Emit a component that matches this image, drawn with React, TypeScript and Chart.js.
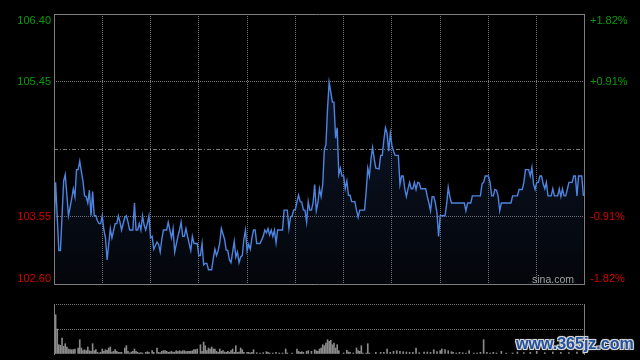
import React, { useEffect, useRef } from 'react';
import { Chart, registerables } from 'chart.js';

Chart.register(...registerables);

// ---- price line (minute of session, price) ----
const minutes = [
  0, 1, 3, 4, 6, 7, 9, 11, 12, 13, 14, 15, 16, 17, 18, 19, 20, 21, 22, 23, 24, 25, 26, 27, 28, 29, 30,
  31, 32, 33, 34, 35, 36, 38, 39, 40, 41, 42, 44, 45, 46, 47, 49, 50, 51, 52, 53, 54, 55, 56, 57, 58, 59,
  60, 61, 62, 64, 65, 66, 67, 68, 70, 71, 72, 73, 74, 75, 77, 78, 79, 80, 81, 82, 83, 85, 86, 87, 89, 90,
  91, 92, 93, 94, 95, 96, 98, 99, 100, 101, 102, 103, 104, 106, 107, 108, 109, 110, 112, 113, 114, 115,
  116, 117, 118, 119, 120, 121, 122, 123, 124, 125, 126, 128, 130, 131, 132, 133, 134, 135, 136, 137,
  138, 139, 142, 143, 145, 146, 147, 148, 149, 150, 151, 152, 153, 154, 155, 156, 157, 158, 159, 160,
  161, 162, 163, 164, 165, 166, 167, 168, 169, 170, 171, 172, 173, 174, 175, 176, 177, 178, 179, 180,
  181, 182, 183, 184, 185, 187, 188, 189, 190, 193, 194, 195, 196, 197, 198, 199, 200, 202, 203, 204,
  205, 206, 207, 208, 209, 210, 211, 212, 214, 215, 216, 217, 218, 219, 220, 221, 222, 223, 224, 225,
  226, 227, 228, 231, 232, 233, 234, 235, 236, 237, 238, 239, 240, 243, 244, 245, 246, 247, 255, 256,
  257, 259, 260, 265, 266, 267, 268, 270, 271, 272, 273, 274, 275, 276, 277, 278, 284, 285, 288, 289,
  291, 292, 293, 295, 296, 297, 298, 299, 300, 301, 302, 303, 304, 305, 306, 307, 309, 310, 311, 313,
  314, 315, 316, 317, 318, 319, 320, 322, 323, 324, 325, 326, 328, 329,
];
const prices = [
  103.36, 104.03, 103.07, 103.07, 104.05, 104.14, 103.56, 103.8, 103.94, 103.83, 104.21, 104.21, 104.33,
  104.18, 104.05, 103.84, 103.83, 103.74, 103.92, 103.56, 103.9, 103.56, 103.56, 103.49, 103.45, 103.45,
  103.56, 103.36, 103.25, 102.94, 103.16, 103.38, 103.25, 103.45, 103.45, 103.56, 103.47, 103.36, 103.54,
  103.56, 103.47, 103.36, 103.36, 103.74, 103.36, 103.36, 103.45, 103.36, 103.56, 103.43, 103.36, 103.45,
  103.56, 103.25, 103.27, 103.09, 103.19, 103.16, 103.05, 103.23, 103.36, 103.36, 103.47, 103.36, 103.25,
  103.38, 103.05, 103.27, 103.36, 103.47, 103.27, 103.27, 103.38, 103.27, 103.07, 103.27, 103.17, 103.17,
  103.0, 103.0, 103.17, 102.87, 102.89, 102.89, 102.8, 102.8, 102.96, 103.09, 103.0, 103.07, 103.18,
  103.38, 103.23, 103.08, 103.07, 102.94, 102.9, 103.2, 102.98, 103.05, 102.9, 102.98, 103.0, 103.23,
  103.36, 103.07, 103.16, 103.09, 103.25, 103.36, 103.36, 103.17, 103.17, 103.27, 103.36, 103.32, 103.38,
  103.29, 103.36, 103.27, 103.36, 103.18, 103.36, 103.36, 103.64, 103.64, 103.38, 103.54, 103.56, 103.64,
  103.65, 103.76, 103.85, 103.76, 103.75, 103.64, 103.64, 103.47, 103.76, 103.64, 103.64, 103.74, 104.0,
  103.63, 103.74, 103.94, 103.83, 104.0, 104.49, 104.56, 105.07, 105.44, 105.3, 105.16, 105.16, 104.65,
  104.8, 104.14, 104.23, 104.12, 104.12, 103.94, 104.05, 103.85, 103.85, 103.76, 103.76, 103.64, 103.54,
  103.64, 103.64, 103.9, 104.23, 104.12, 104.36, 104.52, 104.36, 104.23, 104.22, 104.41, 104.41, 104.63,
  104.8, 104.72, 104.47, 104.72, 104.55, 104.47, 104.41, 104.41, 104.0, 104.12, 104.12, 103.94, 103.83,
  103.94, 104.03, 103.94, 103.94, 104.03, 103.93, 104.03, 104.02, 103.94, 103.94, 103.83, 103.74, 103.63,
  103.83, 103.83, 103.74, 103.6, 103.27, 103.56, 103.56, 103.72, 103.96, 103.83, 103.74, 103.74, 103.63,
  103.74, 103.74, 103.84, 103.84, 104.01, 104.03, 104.12, 104.12, 104.03, 103.84, 103.84, 103.93, 103.92,
  103.84, 103.63, 103.74, 103.74, 103.84, 103.84, 103.93, 103.93, 104.03, 104.21, 104.21, 104.12, 104.24,
  104.01, 103.93, 104.03, 104.03, 104.12, 104.12, 104.01, 103.94, 104.03, 103.84, 103.84, 103.94, 103.84,
  103.84, 103.94, 103.83, 103.94, 103.84, 103.84, 103.93, 104.03, 104.03, 104.12, 104.12, 103.84, 104.12,
  104.12, 103.84,
];

const prevClose = 104.5;
const priceMin = 102.6;
const priceMax = 106.4;
const priceTicks = [102.6, 103.55, 104.5, 105.45, 106.4];
const priceLabels = ['102.60', '103.55', '', '105.45', '106.40'];
const pctLabels = ['-1.82%', '-0.91%', '', '+0.91%', '+1.82%'];
const sessionMinutes = 330;
const timeTicks = [0, 30, 60, 90, 120, 150, 180, 210, 240, 270, 300, 330];

// ---- volume (minute of session, volume) ----
const volMinutes = [
  1, 2, 3, 4, 5, 6, 7, 8, 9, 10, 11, 12, 13, 15, 16, 17, 18, 19, 20, 21, 22, 23, 24, 25, 26, 27, 28, 29,
  30, 31, 32, 33, 34, 35, 36, 37, 38, 39, 40, 41, 42, 44, 45, 46, 47, 48, 49, 50, 51, 52, 53, 54, 55, 57,
  58, 59, 61, 62, 64, 65, 66, 67, 68, 69, 70, 71, 72, 73, 74, 75, 76, 77, 78, 79, 80, 81, 82, 83, 84, 85,
  86, 87, 88, 89, 91, 92, 93, 94, 95, 96, 97, 98, 99, 100, 101, 102, 103, 104, 105, 106, 107, 108, 109,
  110, 111, 112, 113, 114, 115, 116, 117, 118, 120, 121, 122, 123, 124, 126, 128, 130, 132, 133, 134,
  136, 138, 140, 142, 144, 145, 148, 151, 152, 153, 154, 155, 157, 158, 160, 162, 163, 164, 165, 166,
  167, 168, 169, 170, 171, 172, 173, 174, 175, 176, 177, 180, 182, 183, 184, 186, 188, 189, 190, 191,
  192, 194, 195, 196, 200, 203, 205, 207, 209, 211, 213, 215, 217, 219, 221, 223, 225, 227, 230, 232,
  234, 236, 238, 240, 241, 243, 245, 247, 248, 250, 252, 254, 256, 258, 261, 263, 265, 267, 269, 271,
  273, 275, 278, 281, 285, 288, 292, 296, 300, 305, 310, 315, 320, 325, 329,
];
const volumes = [
  393, 250, 93, 87, 160, 77, 103, 70, 50, 43, 43, 43, 50, 60, 143, 60, 33, 43, 33, 70, 33, 27, 103, 33,
  43, 17, 10, 17, 50, 27, 43, 37, 60, 70, 20, 27, 43, 27, 17, 17, 17, 60, 83, 27, 10, 20, 27, 50, 27, 17,
  10, 13, 10, 17, 23, 17, 33, 17, 60, 17, 13, 27, 33, 33, 27, 17, 20, 27, 17, 20, 33, 23, 33, 23, 33, 33,
  23, 27, 27, 27, 33, 43, 43, 50, 93, 27, 120, 83, 33, 60, 50, 70, 50, 50, 27, 17, 50, 27, 33, 20, 17, 27,
  17, 33, 50, 17, 83, 17, 20, 60, 43, 17, 17, 17, 10, 17, 43, 13, 10, 13, 23, 17, 10, 10, 17, 10, 10, 50,
  10, 10, 50, 27, 17, 23, 17, 27, 33, 27, 43, 33, 27, 50, 60, 93, 83, 110, 143, 127, 137, 93, 110, 60, 93,
  33, 10, 37, 20, 17, 10, 60, 33, 27, 83, 10, 10, 103, 10, 17, 17, 17, 50, 17, 27, 33, 27, 23, 20, 17, 17,
  60, 13, 20, 20, 17, 43, 23, 33, 50, 43, 33, 23, 17, 10, 17, 13, 10, 33, 10, 10, 17, 143, 17, 10, 17, 10,
  27, 10, 10, 20, 13, 17, 27, 13, 20, 17, 13, 20, 30,
];
const volMax = 500;
const volTicks = [0, 250, 500];

const GRID = '#777777';
const FRAME = '#7d7d7d';
const LABEL_FONT = '11px "Liberation Sans", Arial, sans-serif';

const mainOverlay = {
  id: 'mainOverlay',
  beforeDatasetsDraw(chart: any) {
    const { ctx, chartArea: a, scales } = chart;
    const py = Math.round(scales.y.getPixelForValue(prevClose)) + 0.5;
    ctx.save();
    ctx.strokeStyle = GRID;
    ctx.lineWidth = 1;
    ctx.setLineDash([4, 2, 1, 2]);
    ctx.beginPath();
    ctx.moveTo(a.left, py);
    ctx.lineTo(a.right, py);
    ctx.stroke();
    ctx.restore();
  },
  afterDraw(chart: any) {
    const { ctx, chartArea: a, scales } = chart;
    ctx.save();
    ctx.strokeStyle = FRAME;
    ctx.lineWidth = 1;
    ctx.beginPath();
    ctx.moveTo(a.left, a.top + 0.5);
    ctx.lineTo(a.right, a.top + 0.5);
    ctx.moveTo(a.left, a.bottom + 0.5);
    ctx.lineTo(a.right, a.bottom + 0.5);
    ctx.moveTo(a.left + 0.5, a.top);
    ctx.lineTo(a.left + 0.5, a.bottom + 1);
    ctx.moveTo(a.right - 0.5, a.top);
    ctx.lineTo(a.right - 0.5, a.bottom + 1);
    ctx.stroke();

    ctx.font = LABEL_FONT;
    priceTicks.forEach((v, i) => {
      if (!priceLabels[i]) return;
      let y = scales.y.getPixelForValue(v);
      let base: CanvasTextBaseline = 'middle';
      if (i === priceTicks.length - 1) {
        y = a.top + 1;
        base = 'top';
      } else if (i === 0) {
        y = a.bottom - 2;
        base = 'alphabetic';
      }
      ctx.textBaseline = base;
      ctx.fillStyle = v > prevClose ? '#0a9a0a' : '#d40000';
      ctx.textAlign = 'right';
      ctx.fillText(priceLabels[i], a.left - 3, y);
      ctx.textAlign = 'left';
      ctx.fillText(pctLabels[i], a.right + 5, y);
    });

    ctx.font = '10.5px "Liberation Sans", Arial, sans-serif';
    ctx.fillStyle = '#a0a0a0';
    ctx.textAlign = 'right';
    ctx.textBaseline = 'alphabetic';
    ctx.fillText('sina.com', a.right - 11, a.bottom - 1);
    ctx.restore();
  },
};

const volOverlay = {
  id: 'volOverlay',
  afterDraw(chart: any) {
    const { ctx, chartArea: a } = chart;
    ctx.save();
    ctx.strokeStyle = FRAME;
    ctx.lineWidth = 1;
    ctx.beginPath();
    ctx.moveTo(a.left + 0.5, a.top);
    ctx.lineTo(a.left + 0.5, a.bottom + 1);
    ctx.moveTo(a.right - 0.5, a.top);
    ctx.lineTo(a.right - 0.5, a.bottom + 1);
    ctx.stroke();
    ctx.restore();
  },
};

export default function App() {
  const mainRef = useRef<HTMLCanvasElement>(null);
  const volRef = useRef<HTMLCanvasElement>(null);

  useEffect(() => {
    const linePoints = minutes.map((m, i) => ({ x: m, y: prices[i] }));
    const volPoints = volMinutes.map((m, i) => ({ x: m, y: volumes[i] }));

    const main = new Chart(mainRef.current as HTMLCanvasElement, {
      type: 'line',
      data: {
        datasets: [
          {
            data: linePoints,
            borderColor: '#4d84e0',
            borderWidth: 1.4,
            pointRadius: 0,
            tension: 0,
            fill: 'start',
            backgroundColor: (c: any) => {
              const { ctx, chartArea } = c.chart;
              if (!chartArea) return 'rgba(30,55,100,0.2)';
              const g = ctx.createLinearGradient(0, chartArea.top + 60, 0, chartArea.bottom);
              g.addColorStop(0, 'rgba(40,70,130,0.32)');
              g.addColorStop(1, 'rgba(40,70,130,0.08)');
              return g;
            },
          },
        ],
      },
      options: {
        responsive: false,
        animation: false,
        devicePixelRatio: 1,
        layout: { padding: { left: 54, right: 55, top: 14, bottom: 6 } },
        plugins: { legend: { display: false }, tooltip: { enabled: false } },
        scales: {
          x: {
            type: 'linear',
            min: 0,
            max: sessionMinutes,
            afterBuildTicks: (s: any) => {
              s.ticks = timeTicks.map((v) => ({ value: v }));
            },
            ticks: { display: false },
            grid: {
              drawTicks: false,
              color: (c: any) =>
                c.tick && c.tick.value > 0 && c.tick.value < sessionMinutes ? GRID : 'transparent',
            },
            border: { display: false, dash: [1, 1] },
          },
          y: {
            type: 'linear',
            min: priceMin,
            max: priceMax,
            afterBuildTicks: (s: any) => {
              s.ticks = priceTicks.map((v) => ({ value: v }));
            },
            ticks: { display: false },
            grid: {
              drawTicks: false,
              color: (c: any) =>
                c.tick && (c.tick.value === priceTicks[1] || c.tick.value === priceTicks[3])
                  ? GRID
                  : 'transparent',
            },
            border: { display: false, dash: [1, 1] },
          },
        },
      },
      plugins: [mainOverlay],
    } as any);

    const vol = new Chart(volRef.current as HTMLCanvasElement, {
      type: 'bar',
      data: {
        datasets: [
          {
            data: volPoints,
            backgroundColor: '#8a8a8a',
            barThickness: 1,
            borderWidth: 0,
          },
        ],
      },
      options: {
        responsive: false,
        animation: false,
        devicePixelRatio: 1,
        layout: { padding: { left: 54, right: 55, top: 14, bottom: 6 } },
        plugins: { legend: { display: false }, tooltip: { enabled: false } },
        scales: {
          x: {
            type: 'linear',
            min: 0,
            max: sessionMinutes,
            offset: false,
            ticks: { display: false },
            grid: { display: false, offset: false, drawTicks: false },
            border: { display: false },
          },
          y: {
            type: 'linear',
            min: 0,
            max: volMax,
            afterBuildTicks: (s: any) => {
              s.ticks = volTicks.map((v) => ({ value: v }));
            },
            ticks: { display: false },
            grid: {
              drawTicks: false,
              color: (c: any) => (c.tick && c.tick.value > 0 ? GRID : 'transparent'),
            },
            border: { display: false, dash: [1, 1] },
          },
        },
      },
      plugins: [volOverlay],
    } as any);

    return () => {
      main.destroy();
      vol.destroy();
    };
  }, []);

  return (
    <div
      style={{
        position: 'fixed',
        left: 0,
        top: 0,
        width: 640,
        height: 360,
        background: '#000',
        overflow: 'hidden',
      }}
    >
      <canvas
        ref={mainRef}
        width={640}
        height={290}
        style={{ position: 'absolute', left: 0, top: 0, width: 640, height: 290 }}
      />
      <canvas
        ref={volRef}
        width={640}
        height={70}
        style={{ position: 'absolute', left: 0, top: 290, width: 640, height: 70 }}
      />
      <div
        style={{
          position: 'absolute',
          left: 516,
          top: 335,
          font: 'bold 16px "Liberation Sans", Arial, sans-serif',
          color: '#22509c',
          letterSpacing: 0,
          whiteSpace: 'nowrap',
          textShadow:
            '1px 1px 0 #d8d8d8, -1px -1px 0 #d8d8d8, 1px -1px 0 #d8d8d8, -1px 1px 0 #d8d8d8, 0 0 3px #bbb',
        }}
      >
        www.365jz.com
      </div>
    </div>
  );
}
